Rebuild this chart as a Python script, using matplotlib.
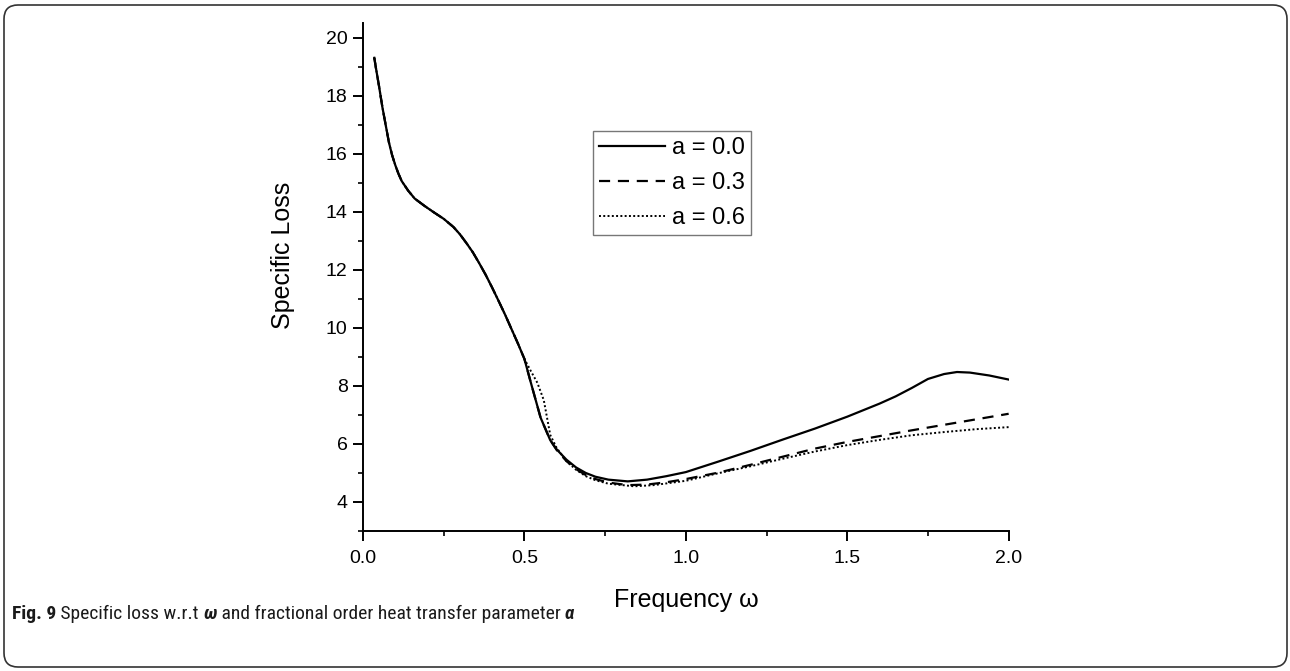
import numpy as np
import matplotlib
matplotlib.use("Agg")
from matplotlib import pyplot as plt
from matplotlib import font_manager
from matplotlib.patches import FancyBboxPatch
from matplotlib.transforms import IdentityTransform
from matplotlib.ticker import MultipleLocator, FormatStrFormatter

# curve a = 0.0 (solid)
x_a0 = [0.035, 0.04, 0.05, 0.06, 0.07, 0.08, 0.09, 0.10, 0.11, 0.12, 0.14, 0.16, 0.19,
        0.22, 0.25, 0.28, 0.30, 0.32, 0.34, 0.36, 0.38, 0.40, 0.42, 0.44, 0.46, 0.48,
        0.50, 0.52, 0.55, 0.58, 0.60, 0.63, 0.66, 0.69, 0.72, 0.76, 0.82, 0.88, 0.94,
        1.00, 1.10, 1.20, 1.30, 1.40, 1.50, 1.60, 1.65, 1.70, 1.75, 1.80, 1.84, 1.88,
        1.94, 2.00]
y_a0 = [19.3, 18.95, 18.3, 17.6, 17.0, 16.4, 15.95, 15.6, 15.3, 15.05, 14.72, 14.45, 14.2,
        13.97, 13.75, 13.47, 13.22, 12.92, 12.6, 12.22, 11.82, 11.38, 10.92, 10.45, 9.95, 9.45,
        8.92, 8.1, 6.9, 6.12, 5.8, 5.45, 5.18, 4.99, 4.86, 4.76, 4.70, 4.76, 4.88,
        5.02, 5.38, 5.75, 6.14, 6.52, 6.93, 7.38, 7.63, 7.92, 8.23, 8.40, 8.47, 8.45,
        8.35, 8.21]

# curve a = 0.3 (dashed)
x_a3 = [0.035, 0.04, 0.05, 0.06, 0.07, 0.08, 0.09, 0.10, 0.11, 0.12, 0.14, 0.16, 0.19,
        0.22, 0.25, 0.28, 0.30, 0.32, 0.34, 0.36, 0.38, 0.40, 0.42, 0.44, 0.46, 0.48,
        0.50, 0.52, 0.55, 0.58, 0.60, 0.63, 0.66, 0.69, 0.72, 0.76, 0.82, 0.88, 0.94,
        1.00, 1.10, 1.20, 1.30, 1.40, 1.50, 1.60, 1.70, 1.80, 1.90, 2.00]
y_a3 = [19.3, 18.95, 18.3, 17.6, 17.0, 16.4, 15.95, 15.6, 15.3, 15.05, 14.72, 14.45, 14.2,
        13.97, 13.75, 13.47, 13.22, 12.92, 12.6, 12.22, 11.82, 11.38, 10.92, 10.45, 9.95, 9.45,
        8.92, 8.1, 6.9, 6.12, 5.78, 5.40, 5.12, 4.92, 4.78, 4.66, 4.57, 4.59, 4.67,
        4.78, 5.00, 5.27, 5.55, 5.83, 6.06, 6.26, 6.46, 6.65, 6.84, 7.03]

# curve a = 0.6 (dotted)
x_a6 = [0.035, 0.04, 0.05, 0.06, 0.07, 0.08, 0.09, 0.10, 0.11, 0.12, 0.14, 0.16, 0.19,
        0.22, 0.25, 0.28, 0.30, 0.32, 0.34, 0.36, 0.38, 0.40, 0.42, 0.44, 0.46, 0.48,
        0.50, 0.52, 0.54, 0.56, 0.57, 0.58, 0.60, 0.63, 0.66, 0.69, 0.72, 0.76, 0.84,
        0.90, 1.00, 1.10, 1.20, 1.30, 1.40, 1.50, 1.60, 1.70, 1.80, 1.90, 2.00]
y_a6 = [19.3, 18.95, 18.3, 17.6, 17.0, 16.4, 15.95, 15.6, 15.3, 15.05, 14.72, 14.45, 14.2,
        13.97, 13.75, 13.47, 13.22, 12.92, 12.6, 12.22, 11.82, 11.38, 10.92, 10.45, 9.95, 9.45,
        8.92, 8.5, 8.1, 7.5, 6.9, 6.3, 5.85, 5.40, 5.10, 4.88, 4.74, 4.62, 4.53,
        4.57, 4.72, 4.98, 5.22, 5.48, 5.73, 5.95, 6.13, 6.29, 6.40, 6.50, 6.57]

labels = ["a = 0.0", "a = 0.3", "a = 0.6"]

# pick installed fonts by their real names
names = {f.name for f in font_manager.fontManager.ttflist}
def pick(cands):
    return [c for c in cands if c in names] + ['DejaVu Sans']

main_font = pick(['Liberation Sans', 'Arimo', 'Arial', 'Roboto'])
cap_font = pick(['Liberation Sans Narrow', 'Roboto Condensed', 'Open Sans Condensed',
                 'Liberation Sans', 'Roboto'])
plt.rcParams['font.family'] = main_font

fig = plt.figure(figsize=(12.9, 6.71), dpi=100)
ax = fig.add_axes([0.2814, 0.2091, 0.5005, 0.7566])

ax.plot(x_a0, y_a0, color='black', lw=1.6, ls='-', label=labels[0])
ax.plot(x_a3, y_a3, color='black', lw=1.6, ls=(0, (5, 3.5)), label=labels[1])
ax.plot(x_a6, y_a6, color='black', lw=1.4, ls=(0, (1, 1.2)), label=labels[2])

ax.set_xlim(0, 2.0)
ax.set_ylim(3.0, 20.5)
ax.xaxis.set_major_locator(MultipleLocator(0.5))
ax.xaxis.set_minor_locator(MultipleLocator(0.25))
ax.yaxis.set_minor_locator(MultipleLocator(1))
ax.set_yticks([4, 6, 8, 10, 12, 14, 16, 18, 20])
ax.xaxis.set_major_formatter(FormatStrFormatter('%.1f'))

for s in ['top', 'right']:
    ax.spines[s].set_visible(False)
for s in ['left', 'bottom']:
    ax.spines[s].set_linewidth(1.4)
ax.tick_params(which='major', direction='out', length=7, width=1.4, labelsize=14, pad=4)
ax.tick_params(axis='x', which='major', pad=7)
ax.tick_params(which='minor', direction='out', length=3.5, width=1.2)

ax.set_xlabel('Frequency ω', fontsize=18)
ax.xaxis.set_label_coords(0.5, -0.113)
ax.set_ylabel('Specific Loss', fontsize=18)
ax.yaxis.set_label_coords(-0.105, 0.542)

leg = ax.legend(loc='upper left', bbox_to_anchor=(0.356, 0.787), fontsize=17,
                fancybox=False, framealpha=1, edgecolor='#777777', handlelength=2.8,
                handletextpad=0.3, borderpad=0.25, labelspacing=0.55, borderaxespad=0)
leg.get_frame().set_linewidth(1.0)

# rounded border around the whole figure
border = FancyBboxPatch((4, 4), 1283, 662, boxstyle='round,pad=0,rounding_size=14',
                        transform=IdentityTransform(), fill=False, edgecolor='#333333',
                        linewidth=1.2)
fig.patches.append(border)

# caption, drawn piece by piece
pieces = [("Fig. 9", 'bold', 'normal'), (" Specific loss w.r.t ", 'normal', 'normal'),
          ("ω", 'bold', 'italic'), (" and fractional order heat transfer parameter ", 'normal', 'normal'),
          ("α", 'bold', 'italic')]
fig.canvas.draw()
r = fig.canvas.get_renderer()
xpos = 12
for txt, w, st in pieces:
    t = fig.text(xpos / 1290, 1 - 619 / 671, txt, fontsize=14, fontweight=w, fontstyle=st,
                 family=cap_font, va='baseline', ha='left', color='#1a1a1a')
    bb = t.get_window_extent(r)
    xpos += bb.width

plt.savefig('out.png', dpi=100)
